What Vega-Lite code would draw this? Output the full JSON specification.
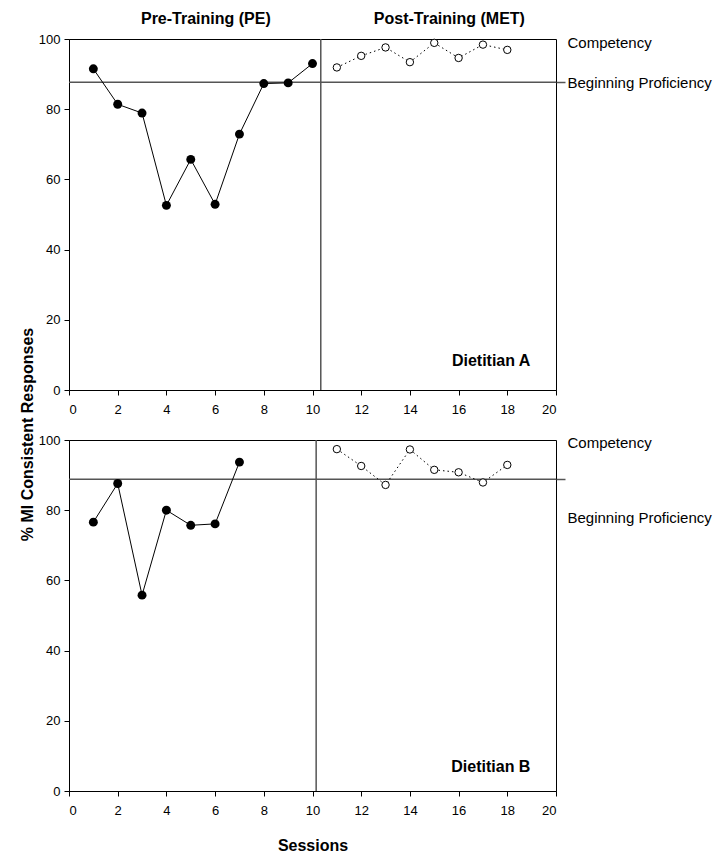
{
  "$schema": "https://vega.github.io/schema/vega-lite/v6.json",
  "padding": {"left": 18, "top": 9, "right": 5, "bottom": 0},
  "bounds": "flush",
  "spacing": 50,
  "config": {
    "font": "Liberation Sans",
    "view": {"stroke": "black", "strokeWidth": 1},
    "axis": {"grid": false, "domainColor": "black", "tickColor": "black", "labelColor": "black", "titleColor": "black", "labelFontSize": 13, "labelFont": "Liberation Sans", "titleFont": "Liberation Sans"}
  },
  "datasets": {
    "A": [
      {"session": 1, "pct": 91.5, "phase": "pre"},
      {"session": 2, "pct": 81.4, "phase": "pre"},
      {"session": 3, "pct": 78.9, "phase": "pre"},
      {"session": 4, "pct": 52.6, "phase": "pre"},
      {"session": 5, "pct": 65.7, "phase": "pre"},
      {"session": 6, "pct": 52.9, "phase": "pre"},
      {"session": 7, "pct": 72.9, "phase": "pre"},
      {"session": 8, "pct": 87.3, "phase": "pre"},
      {"session": 9, "pct": 87.5, "phase": "pre"},
      {"session": 10, "pct": 93.0, "phase": "pre"},
      {"session": 11, "pct": 91.9, "phase": "post"},
      {"session": 12, "pct": 95.2, "phase": "post"},
      {"session": 13, "pct": 97.6, "phase": "post"},
      {"session": 14, "pct": 93.4, "phase": "post"},
      {"session": 15, "pct": 98.9, "phase": "post"},
      {"session": 16, "pct": 94.6, "phase": "post"},
      {"session": 17, "pct": 98.4, "phase": "post"},
      {"session": 18, "pct": 96.9, "phase": "post"}
    ],
    "B": [
      {"session": 1, "pct": 76.6, "phase": "pre"},
      {"session": 2, "pct": 87.6, "phase": "pre"},
      {"session": 3, "pct": 55.8, "phase": "pre"},
      {"session": 4, "pct": 80.0, "phase": "pre"},
      {"session": 5, "pct": 75.7, "phase": "pre"},
      {"session": 6, "pct": 76.1, "phase": "pre"},
      {"session": 7, "pct": 93.7, "phase": "pre"},
      {"session": 11, "pct": 97.4, "phase": "post"},
      {"session": 12, "pct": 92.6, "phase": "post"},
      {"session": 13, "pct": 87.2, "phase": "post"},
      {"session": 14, "pct": 97.3, "phase": "post"},
      {"session": 15, "pct": 91.5, "phase": "post"},
      {"session": 16, "pct": 90.8, "phase": "post"},
      {"session": 17, "pct": 87.9, "phase": "post"},
      {"session": 18, "pct": 92.9, "phase": "post"}
    ]
  },
  "vconcat": [
    {
      "width": 487,
      "height": 351,
      "resolve": {"axis": {"x": "independent", "y": "independent"}},
      "layer": [
        {
          "data": {"values": [{"level": 87.7}]},
          "mark": {"type": "rule", "color": "#555", "strokeWidth": 1.5},
          "encoding": {
            "y": {"field": "level", "type": "quantitative", "scale": {"domain": [0, 100], "nice": false},
              "axis": {"orient": "right", "values": [99.1, 87.7], "labelExpr": "datum.value > 95 ? 'Competency' : 'Beginning Proficiency'", "domain": false, "tickSize": 9, "tickWidth": 1.5, "tickColor": {"condition": {"test": "datum.value < 95", "value": "#555"}, "value": "transparent"}, "labelPadding": 2, "labelFontSize": 15, "title": null}}
          }
        },
        {
          "data": {"values": [{"change": 10.34}]},
          "mark": {"type": "rule", "color": "#555", "strokeWidth": 1.5},
          "encoding": {
            "x": {"field": "change", "type": "quantitative", "scale": {"domain": [0, 20], "nice": false},
              "axis": {"orient": "top", "values": [5.6, 15.6], "labelExpr": "datum.value < 10 ? 'Pre-Training (PE)' : 'Post-Training (MET)'", "domain": false, "ticks": false, "labelFontSize": 16, "labelFontWeight": "bold", "labelPadding": 13, "title": null}}
          }
        },
        {
          "data": {"name": "A"},
          "transform": [{"filter": "datum.phase == 'pre'"}],
          "mark": {"type": "line", "color": "black", "strokeWidth": 1},
          "encoding": {
            "x": {"field": "session", "type": "quantitative", "axis": null},
            "y": {"field": "pct", "type": "quantitative", "axis": null}
          }
        },
        {
          "data": {"name": "A"},
          "transform": [{"filter": "datum.phase == 'post'"}],
          "mark": {"type": "line", "color": "black", "strokeWidth": 1, "strokeDash": [1.5, 3]},
          "encoding": {
            "x": {"field": "session", "type": "quantitative", "axis": null},
            "y": {"field": "pct", "type": "quantitative", "axis": null}
          }
        },
        {
          "data": {"name": "A"},
          "transform": [{"filter": "datum.phase == 'post'"}],
          "mark": {"type": "point", "shape": "circle", "filled": false, "fill": "white", "stroke": "black", "strokeWidth": 1, "size": 55, "opacity": 1},
          "encoding": {
            "x": {"field": "session", "type": "quantitative", "axis": null},
            "y": {"field": "pct", "type": "quantitative", "axis": null}
          }
        },
        {
          "data": {"name": "A"},
          "transform": [{"filter": "datum.phase == 'pre'"}],
          "mark": {"type": "point", "shape": "circle", "filled": true, "color": "black", "size": 80, "opacity": 1},
          "encoding": {
            "x": {"field": "session", "type": "quantitative",
              "axis": {"values": [0, 2, 4, 6, 8, 10, 12, 14, 16, 18, 20], "tickSize": 5, "labelPadding": 8, "title": null}},
            "y": {"field": "pct", "type": "quantitative",
              "axis": {"values": [0, 20, 40, 60, 80, 100], "tickSize": 5, "labelPadding": 4, "title": "% MI Consistent Responses", "titleFontSize": 16, "titleFontWeight": "bold", "titlePadding": 3, "titleY": 395}}
          }
        },
        {
          "data": {"values": [{"session": 18.95, "pct": 8.3, "label": "Dietitian A"}]},
          "mark": {"type": "text", "align": "right", "baseline": "middle", "fontSize": 16, "fontWeight": "bold", "color": "black"},
          "encoding": {
            "x": {"field": "session", "type": "quantitative", "axis": null},
            "y": {"field": "pct", "type": "quantitative", "axis": null},
            "text": {"field": "label"}
          }
        }
      ]
    },
    {
      "width": 487,
      "height": 351,
      "resolve": {"axis": {"x": "independent", "y": "independent"}},
      "layer": [
        {
          "data": {"values": [{"level": 88.8}]},
          "mark": {"type": "rule", "color": "#555", "strokeWidth": 1.5},
          "encoding": {
            "y": {"field": "level", "type": "quantitative", "scale": {"domain": [0, 100], "nice": false},
              "axis": {"orient": "right", "values": [99.2, 88.8, 78], "labelExpr": "datum.value > 95 ? 'Competency' : datum.value > 85 ? '' : 'Beginning Proficiency'", "domain": false, "tickSize": 9, "tickWidth": 1.5, "tickColor": {"condition": {"test": "datum.value > 85 && datum.value < 95", "value": "#555"}, "value": "transparent"}, "labelPadding": 2, "labelFontSize": 15, "title": null}}
          }
        },
        {
          "data": {"values": [{"change": 10.15}]},
          "mark": {"type": "rule", "color": "#555", "strokeWidth": 1.5},
          "encoding": {
            "x": {"field": "change", "type": "quantitative", "scale": {"domain": [0, 20], "nice": false}, "axis": null}
          }
        },
        {
          "data": {"name": "B"},
          "transform": [{"filter": "datum.phase == 'pre'"}],
          "mark": {"type": "line", "color": "black", "strokeWidth": 1},
          "encoding": {
            "x": {"field": "session", "type": "quantitative", "axis": null},
            "y": {"field": "pct", "type": "quantitative", "axis": null}
          }
        },
        {
          "data": {"name": "B"},
          "transform": [{"filter": "datum.phase == 'post'"}],
          "mark": {"type": "line", "color": "black", "strokeWidth": 1, "strokeDash": [1.5, 3]},
          "encoding": {
            "x": {"field": "session", "type": "quantitative", "axis": null},
            "y": {"field": "pct", "type": "quantitative", "axis": null}
          }
        },
        {
          "data": {"name": "B"},
          "transform": [{"filter": "datum.phase == 'post'"}],
          "mark": {"type": "point", "shape": "circle", "filled": false, "fill": "white", "stroke": "black", "strokeWidth": 1, "size": 55, "opacity": 1},
          "encoding": {
            "x": {"field": "session", "type": "quantitative", "axis": null},
            "y": {"field": "pct", "type": "quantitative", "axis": null}
          }
        },
        {
          "data": {"name": "B"},
          "transform": [{"filter": "datum.phase == 'pre'"}],
          "mark": {"type": "point", "shape": "circle", "filled": true, "color": "black", "size": 80, "opacity": 1},
          "encoding": {
            "x": {"field": "session", "type": "quantitative",
              "axis": {"values": [0, 2, 4, 6, 8, 10, 12, 14, 16, 18, 20], "tickSize": 5, "labelPadding": 8, "title": "Sessions", "titleFontSize": 16, "titleFontWeight": "bold", "titlePadding": 20}},
            "y": {"field": "pct", "type": "quantitative",
              "axis": {"values": [0, 20, 40, 60, 80, 100], "tickSize": 5, "labelPadding": 4, "title": null}}
          }
        },
        {
          "data": {"values": [{"session": 18.95, "pct": 6.8, "label": "Dietitian B"}]},
          "mark": {"type": "text", "align": "right", "baseline": "middle", "fontSize": 16, "fontWeight": "bold", "color": "black"},
          "encoding": {
            "x": {"field": "session", "type": "quantitative", "axis": null},
            "y": {"field": "pct", "type": "quantitative", "axis": null},
            "text": {"field": "label"}
          }
        }
      ]
    }
  ]
}
